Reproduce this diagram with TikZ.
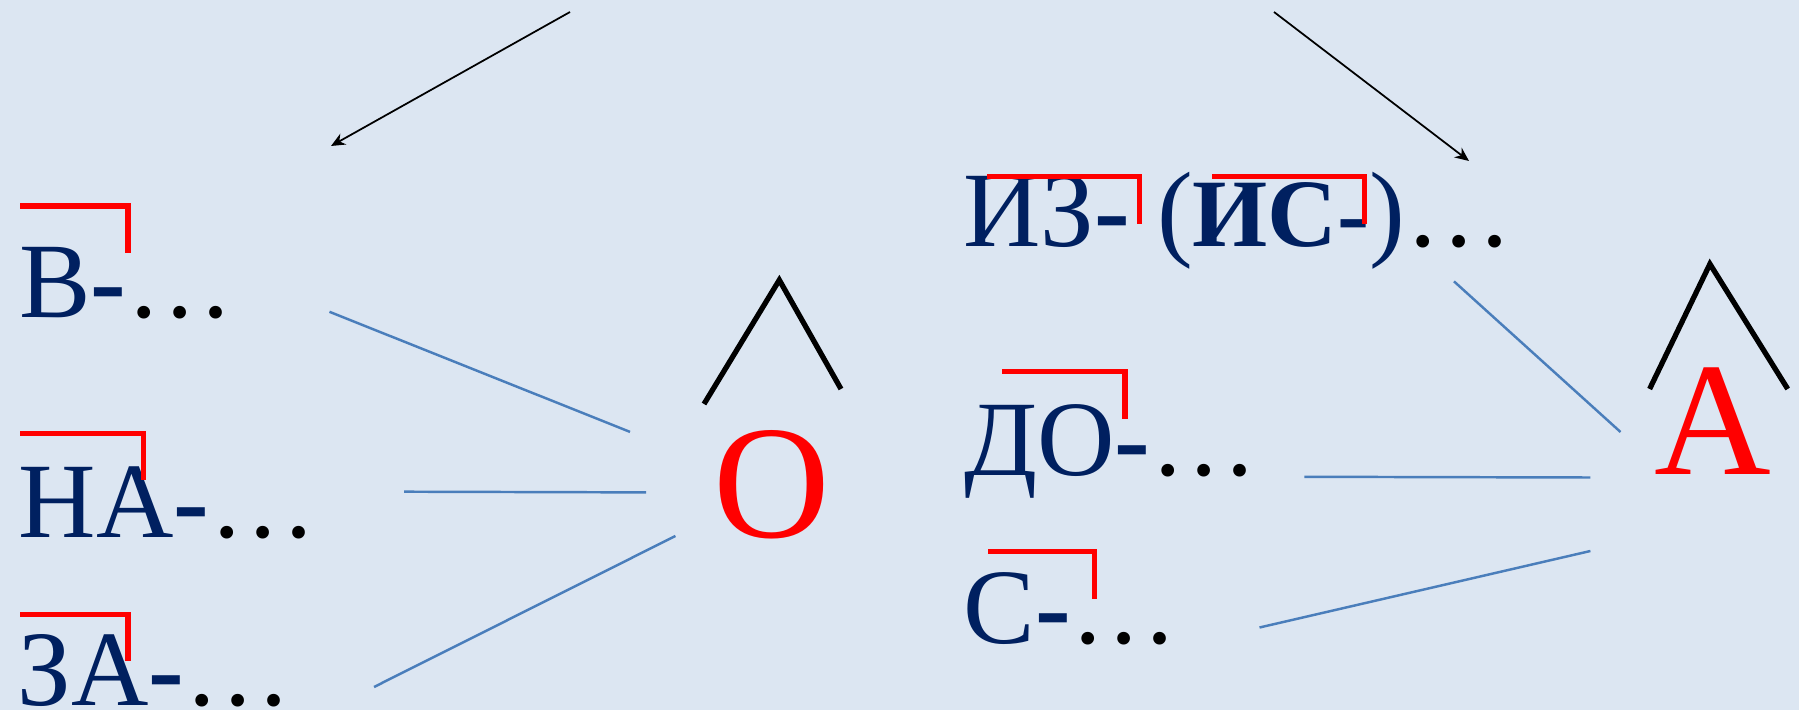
\documentclass[tikz,border=0pt]{standalone}
\usepackage{fontspec}
\setmainfont{Liberation Serif}
\usetikzlibrary{arrows.meta}
\definecolor{paper}{RGB}{220,230,242}
\definecolor{ink}{RGB}{0,32,96}
\definecolor{linkblue}{RGB}{74,126,187}
\definecolor{markred}{RGB}{255,0,0}

\begin{document}
\begin{tikzpicture}[
  >={Stealth[length=4pt,width=3.5pt]},
  word/.style={anchor=base west,inner sep=0pt,text=ink,font=\fontsize{30.5}{36}\selectfont},
  bigvowel/.style={anchor=base,inner sep=0pt,text=markred,font=\fontsize{46}{54}\selectfont},
  prefline/.style={markred,line width=1.5pt},
  roof/.style={black,line width=1.5pt},
  link/.style={linkblue,line width=0.7pt},
  pointer/.style={->,black,line width=0.5pt}
]
\newcommand{\pdash}{\textbf{-}}
\newcommand{\wordtail}{\textcolor{black}{…}}
\newcommand{\prefbar}[4]{\draw[prefline] (#1,#3) -| (#2,#4);}
\fill[paper] (0,0) rectangle (17.990,7.100);
\useasboundingbox (0,0) rectangle (17.990,7.100);
% ================= left: prefixes with O =================
\node[word] (v) at (0.183,3.920) {В\pdash\wordtail};
\node[word] (na) at (0.180,1.730) {НА\pdash\wordtail};
\node[word] (za) at (0.170,0.045) {ЗА\pdash\wordtail};
\prefbar{0.200}{1.280}{5.040}{4.570}
\prefbar{0.200}{1.433}{2.767}{2.300}
\prefbar{0.200}{1.280}{0.956}{0.493}
\node[bigvowel] (o) at (7.720,1.725) {О};
\draw[roof] (7.040,3.060) -- (7.793,4.300) -- (8.410,3.210);
\coordinate (v-out) at (3.295,3.982);
\coordinate (na-out) at (4.040,2.183);
\coordinate (za-out) at (3.740,0.230);
\coordinate (o-in1) at (6.300,2.781);
\coordinate (o-in2) at (6.460,2.176);
\coordinate (o-in3) at (6.754,1.740);
\draw[link] (v-out) -- (o-in1);
\draw[link] (na-out) -- (o-in2);
\draw[link] (za-out) -- (o-in3);
% ================= right: prefixes with A =================
\node[word] (iz) at (9.627,4.636) {ИЗ\pdash{} (\textbf{\fontsize{27.5}{33}\selectfont ИС-})\wordtail};
\node[word] (do) at (9.635,2.350) {ДО\pdash\wordtail};
\node[word] (s) at (9.630,0.670) {С\pdash\wordtail};
\prefbar{9.870}{11.396}{5.333}{4.860}
\prefbar{12.120}{13.646}{5.333}{4.860}
\prefbar{10.020}{11.250}{3.382}{2.910}
\prefbar{9.880}{10.948}{1.584}{1.114}
\node[bigvowel] (a) at (17.130,2.360) {А};
\draw[roof] (16.496,3.210) -- (17.099,4.460) -- (17.877,3.210);
\coordinate (iz-out) at (14.540,4.286);
\coordinate (do-out) at (13.044,2.332);
\coordinate (s-out) at (12.595,0.825);
\coordinate (a-in1) at (16.205,2.780);
\coordinate (a-in2) at (15.904,2.325);
\coordinate (a-in3) at (15.904,1.590);
\draw[link] (iz-out) -- (a-in1);
\draw[link] (do-out) -- (a-in2);
\draw[link] (s-out) -- (a-in3);
% ================= top pointers =================
\coordinate (p-left) at (5.700,6.980);
\coordinate (p-right) at (12.740,6.980);
\coordinate (left-group) at (3.310,5.640);
\coordinate (right-group) at (14.690,5.490);
\draw[pointer] (p-left) -- (left-group);
\draw[pointer] (p-right) -- (right-group);
\end{tikzpicture}
\end{document}
